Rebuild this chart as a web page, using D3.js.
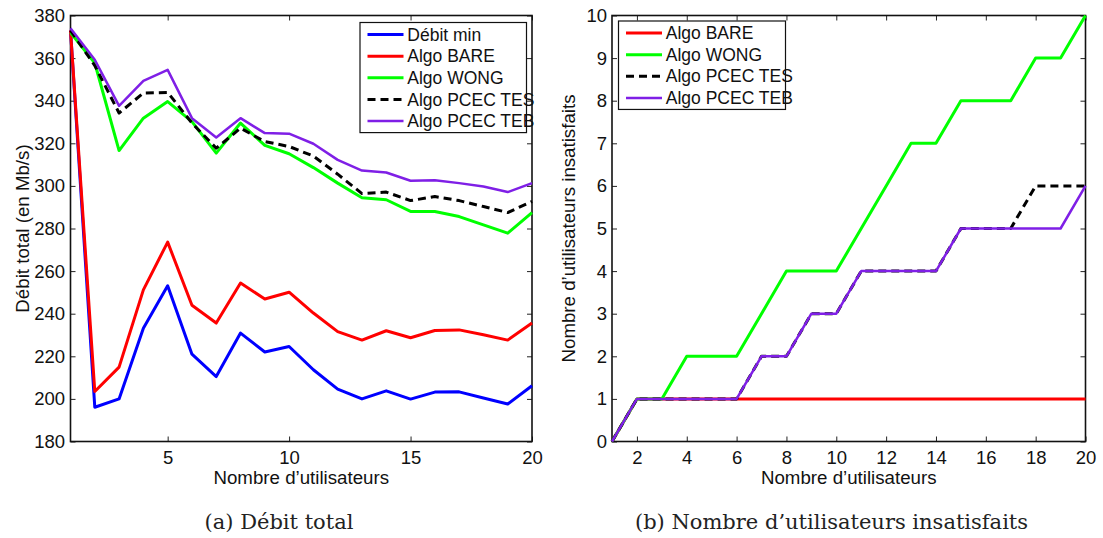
<!DOCTYPE html>
<html>
<head>
<meta charset="utf-8">
<script src="https://cdn.jsdelivr.net/npm/d3@7"></script>
<style>
  body { margin: 0; background: #fff; }
  svg text { font-family: "Liberation Sans", Arial, sans-serif; fill: #111; }
  .caption { font-family: "DejaVu Serif", "Liberation Serif", serif; fill: #222; }
</style>
</head>
<body>
<div id="chart"></div>
<script>
// x values: number of users
const users = d3.range(1, 21);

// (a) total throughput, Mb/s
const debitMin  = [373, 196.1, 200.0, 233.2, 253.1, 221.0, 210.5, 230.9, 222.0, 224.6, 213.7, 204.6, 200.0, 203.8, 199.9, 203.2, 203.3, 200.4, 197.6, 206.2];
const debitBare = [373, 203.5, 214.9, 251.2, 273.6, 244.0, 235.6, 254.4, 246.9, 250.1, 240.3, 231.6, 227.6, 232.0, 228.7, 232.1, 232.4, 230.1, 227.6, 235.6];
const debitWong = [372, 357.7, 316.6, 331.8, 339.6, 330.2, 315.4, 329.5, 319.0, 315.1, 308.6, 301.3, 294.4, 293.5, 288.0, 288.0, 285.6, 281.7, 277.8, 287.5];
const debitTes  = [373, 356.5, 334.2, 343.6, 343.9, 329.5, 317.7, 327.1, 320.8, 318.5, 314.0, 305.5, 296.4, 297.1, 293.1, 295.0, 293.1, 290.3, 287.5, 292.7];
const debitTeb  = [374, 359.2, 337.6, 349.3, 354.5, 331.8, 322.7, 331.8, 324.8, 324.5, 319.8, 312.2, 307.2, 306.3, 302.4, 302.7, 301.3, 299.7, 297.1, 301.3];

// (b) unsatisfied users
const insatBare = [0, 1, 1, 1, 1, 1, 1, 1, 1, 1, 1, 1, 1, 1, 1, 1, 1, 1, 1, 1];
const insatWong = [0, 1, 1, 2, 2, 2, 3, 4, 4, 4, 5, 6, 7, 7, 8, 8, 8, 9, 9, 10];
const insatTes  = [0, 1, 1, 1, 1, 1, 2, 2, 3, 3, 4, 4, 4, 4, 5, 5, 5, 6, 6, 6];
const insatTeb  = [0, 1, 1, 1, 1, 1, 2, 2, 3, 3, 4, 4, 4, 4, 5, 5, 5, 5, 5, 6];

// tick labels
const xTicksA = [5, 10, 15, 20];
const yTicksA = d3.range(180, 381, 20);
const xTicksB = d3.range(2, 21, 2);
const yTicksB = d3.range(0, 11, 1);

const svg = d3.select("#chart").append("svg")
    .attr("width", 1103)
    .attr("height", 538);

function drawPanel(opts) {
    const m = opts.margin;
    const g = svg.append("g").attr("transform", `translate(${m.left},${m.top})`);

    const x = d3.scaleLinear().domain([1, 20]).range([0, opts.width]);
    const y = d3.scaleLinear().domain(opts.yDomain).range([opts.height, 0]);

    const tickLen = 5;
    // bottom/left with labels, top/right mirrored without
    const axes = [
        d3.axisBottom(x).tickValues(opts.xTicks).tickSizeInner(-tickLen).tickSizeOuter(0).tickPadding(9),
        d3.axisLeft(y).tickValues(opts.yTicks).tickSizeInner(-tickLen).tickSizeOuter(0).tickPadding(opts.yPad),
        d3.axisTop(x).tickValues(opts.xTicks).tickSizeInner(-tickLen).tickSizeOuter(0).tickFormat(""),
        d3.axisRight(y).tickValues(opts.yTicks).tickSizeInner(-tickLen).tickSizeOuter(0).tickFormat("")
    ];
    const shifts = [`translate(0,${opts.height})`, null, null, `translate(${opts.width},0)`];
    axes.forEach((ax, i) => {
        const a = g.append("g").attr("transform", shifts[i]).call(ax);
        a.select(".domain").remove();
        a.selectAll(".tick line").attr("stroke", "#222").attr("stroke-width", 1);
        a.selectAll(".tick text").attr("font-size", 18.5).attr("fill", "#111")
            .attr("font-family", '"Liberation Sans", Arial, sans-serif');
    });

    g.append("rect")
        .attr("width", opts.width).attr("height", opts.height)
        .attr("fill", "none").attr("stroke", "#111").attr("stroke-width", 1.6);

    const line = d3.line().x((d, i) => x(users[i])).y(d => y(d));

    opts.series.forEach(s => {
        g.append("path")
            .datum(s.values)
            .attr("d", line)
            .attr("fill", "none")
            .attr("stroke", s.color)
            .attr("stroke-width", s.width || 3)
            .attr("stroke-dasharray", s.dash || null)
            .attr("stroke-linejoin", "round");
    });

    // legend
    const lg = g.append("g").attr("transform", `translate(${opts.legend.x},${opts.legend.y})`);
    const rowH = 21.65;
    lg.append("rect")
        .attr("width", opts.legend.w).attr("height", (opts.series.length - 1) * rowH + 23.5)
        .attr("fill", "#fff").attr("stroke", "#111").attr("stroke-width", 1.2);
    opts.series.forEach((s, i) => {
        const yy = 12 + i * rowH;
        lg.append("line")
            .attr("x1", 7.5).attr("x2", 43.5).attr("y1", yy).attr("y2", yy)
            .attr("stroke", s.color).attr("stroke-width", s.width || 3)
            .attr("stroke-dasharray", s.dash || null);
        lg.append("text")
            .attr("x", 47.3).attr("y", yy).attr("dy", "0.35em")
            .attr("font-size", 17.5)
            .text(s.name);
    });

    // axis titles
    g.append("text")
        .attr("x", opts.width / 2).attr("y", opts.height + 42)
        .attr("text-anchor", "middle").attr("font-size", 18.7)
        .text("Nombre d\u2019utilisateurs");
    g.append("text")
        .attr("transform", `translate(${opts.yTitleX},${opts.height / 2}) rotate(-90)`)
        .attr("text-anchor", "middle").attr("font-size", 18.7)
        .text(opts.yTitle);

    // caption
    svg.append("text")
        .attr("class", "caption")
        .attr("x", opts.captionX).attr("y", 529)
        .attr("text-anchor", "middle").attr("font-size", 21)
        .text(opts.caption);
}

drawPanel({
    margin: {top: 15.5, left: 70.5},
    width: 461.5, height: 426,
    yDomain: [180, 380],
    xTicks: xTicksA, yTicks: yTicksA, yPad: 5.5,
    yTitle: "Débit total (en Mb/s)", yTitleX: -42,
    caption: "(a) Débit total", captionX: 279,
    legend: {x: 289.5, y: 7, w: 166.5},
    series: [
        {name: "Débit min", values: debitMin, color: "#0000ff"},
        {name: "Algo BARE", values: debitBare, color: "#ff0000"},
        {name: "Algo WONG", values: debitWong, color: "#00ff00"},
        {name: "Algo PCEC TES", values: debitTes, color: "#000000", dash: "8,5"},
        {name: "Algo PCEC TEB", values: debitTeb, color: "#7f1fe6", width: 2.5}
    ]
});

drawPanel({
    margin: {top: 15.5, left: 612},
    width: 473.5, height: 426,
    yDomain: [0, 10],
    xTicks: xTicksB, yTicks: yTicksB, yPad: 5,
    yTitle: "Nombre d\u2019utilisateurs insatisfaits", yTitleX: -37,
    caption: "(b) Nombre d\u2019utilisateurs insatisfaits", captionX: 831.5,
    legend: {x: 6.5, y: 5.5, w: 167},
    series: [
        {name: "Algo BARE", values: insatBare, color: "#ff0000"},
        {name: "Algo WONG", values: insatWong, color: "#00ff00"},
        {name: "Algo PCEC TES", values: insatTes, color: "#000000", dash: "8,5"},
        {name: "Algo PCEC TEB", values: insatTeb, color: "#7f1fe6", width: 2.5}
    ]
});
</script>
</body>
</html>
